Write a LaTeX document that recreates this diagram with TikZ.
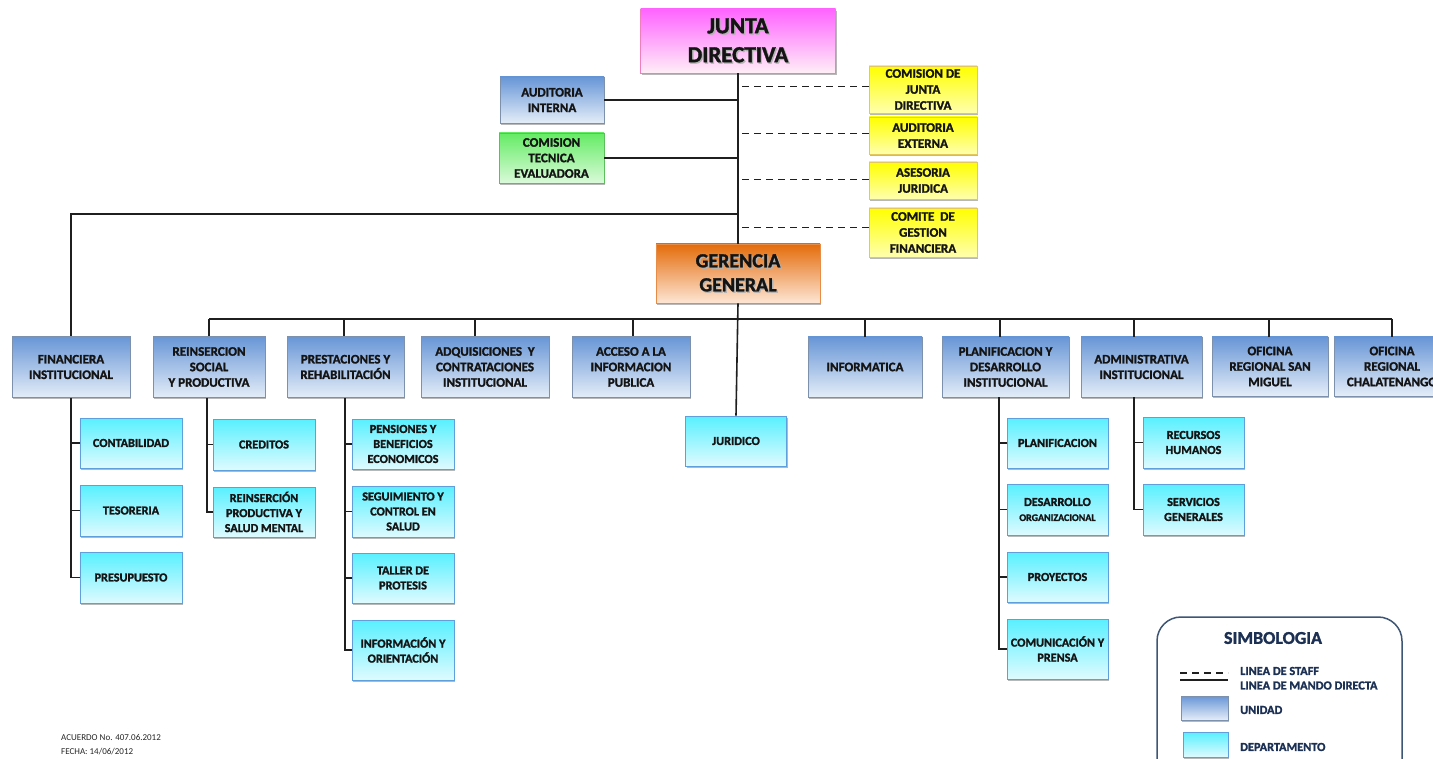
\documentclass[tikz,border=0pt]{standalone}
\usepackage{fontspec}
\setmainfont{Carlito}[BoldFeatures={FakeBold=1.5}]
\usetikzlibrary{shadows}

% box fills: top and bottom of each vertical gradient, and the frame
\definecolor{unitTop}{RGB}{104,150,214}
\definecolor{unitBot}{RGB}{228,237,248}
\definecolor{unitFrame}{RGB}{125,145,172}
\definecolor{deptTop}{RGB}{88,240,255}
\definecolor{deptBot}{RGB}{222,251,255}
\definecolor{deptFrame}{RGB}{95,160,220}
\definecolor{yelTop}{RGB}{255,255,0}
\definecolor{yelBot}{RGB}{255,255,175}
\definecolor{yelFrame}{RGB}{228,200,90}
\definecolor{grnTop}{RGB}{100,236,100}
\definecolor{grnBot}{RGB}{218,250,218}
\definecolor{grnFrame}{RGB}{92,190,92}
\definecolor{magTop}{RGB}{255,100,255}
\definecolor{magBot}{RGB}{255,238,246}
\definecolor{magFrame}{RGB}{240,125,190}
\definecolor{orgTop}{RGB}{228,108,10}
\definecolor{orgBot}{RGB}{253,230,212}
\definecolor{orgFrame}{RGB}{230,140,70}
\definecolor{legFrame}{RGB}{62,86,118}
\definecolor{legText}{RGB}{28,48,84}

% title text with a soft offset shadow
\newcommand\shadowed[1]{\leavevmode\rlap{\kern1.3pt\raisebox{-1.3pt}{\color{black!30}#1}}#1}

\tikzset{
  bx/.style 2 args={minimum width=#1pt, minimum height=#2pt},
  box/.style={draw, line width=0.9pt, inner sep=0pt, align=center, text=black!92,
    font=\bfseries\fontsize{13}{15.5}\selectfont,
    drop shadow={shadow xshift=1.4pt, shadow yshift=-1.6pt, opacity=0.28, fill=black}},
  unit/.style={box, draw=unitFrame, top color=unitTop, bottom color=unitBot},
  dept/.style={box, draw=deptFrame, top color=deptTop, bottom color=deptBot,
    font=\bfseries\fontsize{12.2}{15}\selectfont},
  staffbox/.style={box, draw=yelFrame, top color=yelTop, bottom color=yelBot,
    font=\bfseries\fontsize{13}{16}\selectfont},
  advbox/.style={box, draw=grnFrame, top color=grnTop, bottom color=grnBot},
  boardbox/.style={box, draw=magFrame, top color=magTop, bottom color=magBot,
    font=\bfseries\fontsize{23}{29}\selectfont},
  mgmtbox/.style={box, draw=orgFrame, top color=orgTop, bottom color=orgBot,
    font=\bfseries\fontsize{20}{24}\selectfont},
  mando/.style={line width=1.6pt, draw=black!88},
  staff/.style={line width=1.6pt, draw=black!88, dash pattern=on 7pt off 5pt},
  legtext/.style={anchor=west, inner sep=0pt, text=legText, font=\bfseries\fontsize{12.3}{14}\selectfont},
  notetext/.style={anchor=west, inner sep=0pt, text=black!85, font=\fontsize{9}{10}\selectfont}
}

\begin{document}
\begin{tikzpicture}[x=1pt,y=-1pt]
\useasboundingbox (0,0) rectangle (1433,759);
\clip (0,0) rectangle (1433,759);
\fill[white] (0,0) rectangle (1433,759);

% ---------- board and staff ----------
\node[boardbox, bx={195}{64}] (junta) at (738,41) {\shadowed{JUNTA}\\\shadowed{DIRECTIVA}};
\node[unit, bx={104}{46}] (audint) at (552,100) {AUDITORIA\\INTERNA};
\node[advbox, bx={105}{50}] (comtec) at (551.5,158) {COMISION\\TECNICA\\EVALUADORA};

\node[staffbox, bx={108}{47}] (cjd) at (923,89.5) {COMISION DE\\JUNTA\\DIRECTIVA};
\node[staffbox, bx={108}{37}] (audext) at (923,135.5) {AUDITORIA\\EXTERNA};
\node[staffbox, bx={108}{37}] (asesor) at (923,180.5) {ASESORIA\\JURIDICA};
\node[staffbox, bx={108}{49}] (comite) at (923,232.5) {COMITE~~DE\\GESTION\\FINANCIERA};

\node[mgmtbox, bx={164}{59}] (gerencia) at (738,273.5) {\shadowed{GERENCIA}\\\shadowed{GENERAL}};

% ---------- units ----------
\node[unit, bx={118}{61}] (fin)   at (71,367)    {FINANCIERA\\INSTITUCIONAL};
\node[unit, bx={112}{61}] (reins) at (209,367)   {REINSERCION\\SOCIAL\\Y PRODUCTIVA};
\node[unit, bx={117}{61}] (prest) at (345.5,367) {PRESTACIONES Y\\REHABILITACIÓN};
\node[unit, bx={128}{61}] (adq)   at (485,367)   {ADQUISICIONES~~Y\\CONTRATACIONES\\INSTITUCIONAL};
\node[unit, bx={118}{61}] (acc)   at (631,367)   {ACCESO A LA\\INFORMACION\\PUBLICA};
\node[unit, bx={114}{60}] (info)  at (865,367)   {INFORMATICA};
\node[unit, bx={127}{60}] (plan)  at (1005.5,367){PLANIFICACION Y\\DESARROLLO\\INSTITUCIONAL};
\node[unit, bx={121}{60}] (adm)   at (1141.5,367){ADMINISTRATIVA\\INSTITUCIONAL};
\node[unit, bx={116}{59}] (sanm)  at (1270,366.5){OFICINA\\REGIONAL SAN\\MIGUEL};
\node[unit, bx={116}{59}] (chal)  at (1392,366.5){OFICINA\\REGIONAL\\CHALATENANGO};

% ---------- departments ----------
\node[dept, bx={102}{50}] (cont) at (131,443)   {CONTABILIDAD};
\node[dept, bx={102}{51}] (teso) at (131,510.5) {TESORERIA};
\node[dept, bx={102}{51}] (pres) at (131,577.5) {PRESUPUESTO};

\node[dept, bx={102}{51}] (cred) at (264,444.5) {CREDITOS};
\node[dept, bx={102}{50}] (rpsm) at (264,512)   {REINSERCIÓN\\PRODUCTIVA Y\\SALUD MENTAL};

\node[dept, bx={102}{50}] (pens) at (403,444)   {PENSIONES Y\\BENEFICIOS\\ECONOMICOS};
\node[dept, bx={102}{51}] (segu) at (403,511.5) {SEGUIMIENTO Y\\CONTROL EN\\SALUD};
\node[dept, bx={102}{50}] (tall) at (403,578)   {TALLER DE\\PROTESIS};
\node[dept, bx={102}{60}] (orie) at (403,650)   {INFORMACIÓN Y\\ORIENTACIÓN};

\node[dept, bx={101}{50}] (jur) at (736,441) {JURIDICO};

\node[dept, bx={101}{50}] (planif) at (1057.5,443)   {PLANIFICACION};
\node[dept, bx={101}{51}] (desorg) at (1057.5,509.5) {DESARROLLO\\{\fontsize{10}{12}\selectfont ORGANIZACIONAL}};
\node[dept, bx={101}{50}] (proy)   at (1057.5,577)   {PROYECTOS};
\node[dept, bx={101}{60}] (comun)  at (1057.5,649)   {COMUNICACIÓN Y\\PRENSA};

\node[dept, bx={101}{51}] (rrhh) at (1193.5,442.5) {RECURSOS\\HUMANOS};
\node[dept, bx={101}{51}] (sgen) at (1193.5,509.5) {SERVICIOS\\GENERALES};

% ---------- lines of command ----------
\draw[mando] (junta.south) -- (gerencia.north);
\draw[mando] (audint.east) -- (audint.east -| junta.south);
\draw[mando] (comtec.east) -- (comtec.east -| junta.south);
\coordinate (finjoin) at (738,214);
\draw[mando] (finjoin) -| (fin.north);

% staff lines
\foreach \n/\dy in {cjd/3, audext/2, asesor/1, comite/5}{
  \path ([yshift=\dy pt]\n.west) coordinate (sw);
  \draw[staff] (sw) -- ([xshift=4pt]sw -| junta.south);
}

% bar under the general management
\draw[mando] (gerencia.south) -- (jur.north);
\coordinate (bar) at (0,319);
\draw[mando] (reins.north |- bar) -- (chal.north |- bar);
\foreach \n/\dx in {reins/0, prest/-1.5, adq/-10, acc/2, info/0, plan/-5.5, adm/-7.5, sanm/-1, chal/0}{
  \path ([xshift=\dx pt]\n.north) coordinate (un);
  \draw[mando] (un |- bar) -- (un);
}

% unit to department drops
\draw[mando] (fin.south) |- (pres.west);
\draw[mando] (fin.south |- cont.west) -- (cont.west);
\draw[mando] (fin.south |- teso.west) -- (teso.west);

\path ([xshift=-2pt]reins.south) coordinate (rd);
\draw[mando] (rd) |- (rpsm.west);
\draw[mando] (rd |- cred.west) -- (cred.west);

\path ([xshift=-0.5pt]prest.south) coordinate (pd);
\draw[mando] (pd) |- (orie.west);
\draw[mando] (pd |- pens.west) -- (pens.west);
\draw[mando] (pd |- segu.west) -- (segu.west);
\draw[mando] (pd |- tall.west) -- (tall.west);

\path ([xshift=-6.5pt]plan.south) coordinate (ld);
\draw[mando] (ld) |- (comun.west);
\draw[mando] (ld |- planif.west) -- (planif.west);
\draw[mando] (ld |- desorg.west) -- (desorg.west);
\draw[mando] (ld |- proy.west) -- (proy.west);

\path ([xshift=-7.5pt]adm.south) coordinate (ad);
\draw[mando] (ad) |- (sgen.west);
\draw[mando] (ad |- rrhh.west) -- (rrhh.west);

% ---------- legend ----------
\draw[legFrame, line width=1.5pt, rounded corners=24pt] (1157,617) rectangle (1402,790);
\node[text=legText, font=\bfseries\fontsize{18}{20}\selectfont, inner sep=0pt] (simb) at (1273,638) {SIMBOLOGIA};
\coordinate (sa) at (1180,673); \coordinate (sb) at (1228,673);
\coordinate (ma) at (1180,680); \coordinate (mb) at (1228,680);
\draw[staff] (sa) -- (sb);
\draw[mando] (ma) -- (mb);
\node[legtext] (lstaff) at (1240,671) {LINEA DE STAFF};
\node[legtext] (lmando) at (1240,685.5) {LINEA DE MANDO DIRECTA};
\node[unit, bx={47}{24}] (swu) at (1204.5,708) {};
\node[legtext] (lunit) at (1240,710) {UNIDAD};
\node[dept, bx={45}{25}] (swd) at (1205.5,744.5) {};
\node[legtext] (ldept) at (1240,747) {DEPARTAMENTO};

% ---------- record note ----------
\node[notetext] (acuerdo) at (61,737) {ACUERDO No. 407.06.2012};
\node[notetext] (fecha) at (61,751.5) {FECHA: 14/06/2012};
\end{tikzpicture}
\end{document}
